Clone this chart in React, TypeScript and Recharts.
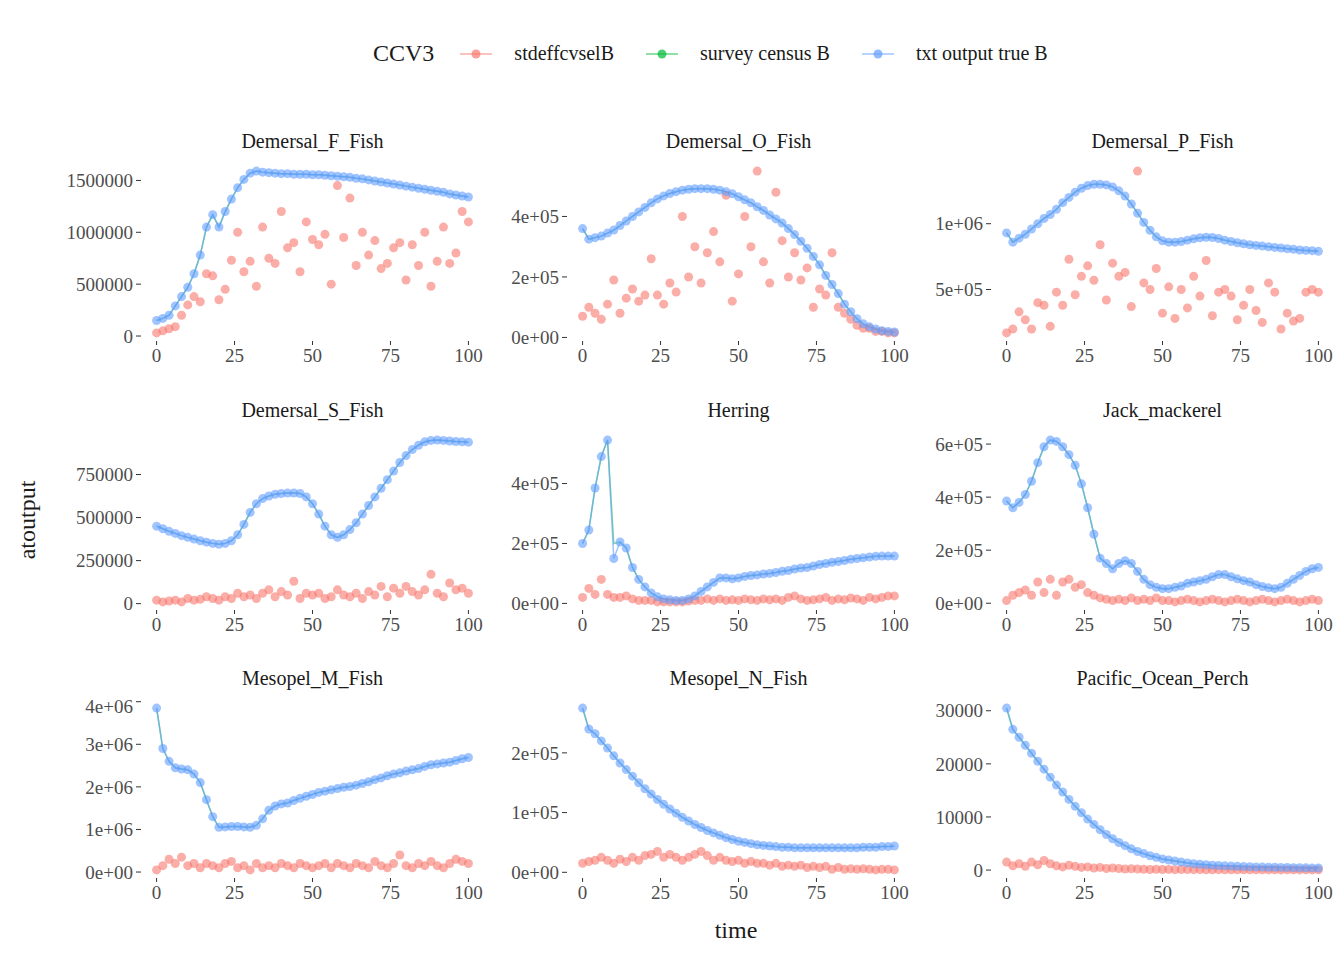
import React from 'react';
import { ComposedChart, Line, XAxis, YAxis } from 'recharts';

// time steps sampled every 2 units
const time = Array.from({ length: 51 }, (_, i) => i * 2);

const fFishTrue = [150,170,200,290,380,470,600,780,1050,1170,1050,1200,1320,1430,1510,1570,1590,1580,1575,1570,1565,1565,1560,1560,1560,1555,1555,1550,1545,1540,1535,1530,1520,1515,1505,1495,1485,1475,1465,1455,1445,1435,1425,1415,1405,1395,1385,1370,1360,1350,1340].map((v) => v * 1000);
const fFishCv = [30,50,70,90,200,300,380,330,600,580,350,450,730,1000,620,720,480,1050,750,700,1200,850,900,620,1100,930,880,980,500,1450,950,1330,680,1000,780,920,650,700,850,900,540,880,680,1000,480,720,1050,700,800,1200,1100].map((v) => v * 1000);

const oFishTrue = [360,325,330,335,345,355,370,385,400,415,430,445,458,468,476,482,487,490,492,492,492,490,487,482,475,465,455,445,432,420,405,392,378,360,340,318,295,268,240,205,175,145,110,85,62,45,35,28,22,20,18].map((v) => v * 1000);
const oFishCv = [70,100,80,60,110,190,80,130,160,120,140,260,140,110,180,150,400,200,300,180,280,350,250,470,120,210,400,300,550,250,180,480,320,200,280,190,230,100,160,140,280,100,80,60,40,30,30,20,20,15,15].map((v) => v * 1000);

const pFishTrue = [930,860,890,920,960,1000,1040,1070,1110,1160,1200,1240,1270,1290,1300,1300,1295,1280,1250,1210,1150,1080,1010,950,900,870,860,860,865,875,885,893,897,895,888,875,865,855,848,840,835,830,825,820,815,810,805,800,797,795,790].map((v) => v * 1000);
const pFishCv = [170,200,330,270,200,400,380,220,480,380,730,460,600,680,570,840,420,700,600,630,370,1400,550,500,660,320,520,280,500,360,600,450,720,300,480,500,450,270,380,500,340,250,550,480,200,320,260,280,480,500,480].map((v) => v * 1000);

const sFishTrue = [450,435,420,408,395,385,375,365,357,350,345,350,365,400,460,530,580,610,625,635,640,642,642,640,620,580,520,450,400,385,400,430,470,520,570,620,670,720,770,820,860,895,920,940,948,950,948,945,942,940,938].map((v) => v * 1000);
const sFishCv = [20,10,15,20,10,30,20,25,40,30,20,40,30,60,40,50,30,60,80,40,70,50,130,30,60,50,60,30,40,80,50,40,60,30,70,50,100,40,90,60,100,70,50,80,170,60,40,120,80,90,60].map((v) => v * 1000);

const herringTrue = [200,245,385,490,545,150,205,185,120,80,55,35,22,15,12,10,10,15,25,40,55,70,85,85,82,85,90,93,95,98,100,103,107,110,115,118,120,125,130,133,137,140,143,147,150,152,155,157,158,158,158].map((v) => v * 1000);
const herringCensus = [200,245,385,490,545,200,205,185,120,80,55,35,22,15,12,10,10,15,25,40,55,70,85,85,82,85,90,93,95,98,100,103,107,110,115,118,120,125,130,133,137,140,143,147,150,152,155,157,158,158,158].map((v) => v * 1000);
const herringCv = [20,50,30,80,30,20,20,25,15,10,10,10,5,5,5,5,5,8,10,10,15,10,15,10,12,10,15,12,10,15,12,15,10,20,25,15,10,12,15,20,10,15,12,18,15,10,20,15,20,25,25].map((v) => v * 1000);

const jackTrue = [385,360,380,410,460,530,590,615,610,590,560,520,450,360,260,170,150,130,150,160,150,120,90,70,60,55,55,60,65,75,80,85,90,100,108,108,100,92,85,80,70,63,58,55,60,75,90,105,120,130,135].map((v) => v * 1000);
const jackCv = [10,30,40,50,30,80,40,90,30,80,90,60,70,40,30,20,15,10,15,10,20,10,15,10,20,10,10,5,10,15,10,5,10,15,10,5,10,15,10,5,10,15,10,5,10,15,10,5,10,15,10].map((v) => v * 1000);

const mMesoTrue = [3850,2900,2600,2450,2420,2400,2300,2100,1700,1300,1050,1060,1070,1070,1060,1050,1100,1250,1450,1550,1600,1620,1680,1730,1780,1820,1870,1900,1930,1960,1990,2010,2040,2080,2120,2170,2210,2260,2300,2330,2370,2400,2430,2480,2520,2540,2560,2580,2620,2660,2690].map((v) => v * 1000);
const mMesoCv = [50,150,300,200,350,150,200,100,200,150,100,200,250,100,150,50,200,100,150,100,200,150,100,200,150,100,150,200,100,200,150,100,200,150,100,250,150,100,200,400,150,100,200,150,250,150,100,200,300,250,200].map((v) => v * 1000);

const nMesoTrue = [275,240,232,220,208,195,183,172,161,150,140,131,122,114,106,99,92,86,80,75,70,66,62,58,55,52,50,48,46,45,44,43,42,42,41,41,41,41,41,41,41,41,41,41,41,42,42,42,43,43,44].map((v) => v * 1000);
const nMesoCv = [15,18,20,25,20,15,22,18,25,20,28,30,35,25,30,25,20,25,30,35,28,20,25,20,18,20,15,18,15,15,12,15,10,12,10,12,8,10,8,10,5,8,5,6,5,6,5,4,5,5,4].map((v) => v * 1000);

const popTrue = [30500,26500,25000,23500,22000,20500,19000,17500,16000,14700,13300,12000,10800,9600,8600,7600,6700,5900,5200,4600,4000,3500,3100,2700,2400,2100,1900,1700,1500,1350,1200,1100,1000,900,850,800,750,700,650,620,590,560,540,520,500,480,460,440,420,410,400];
const popCv = [1500,800,1200,700,1500,1000,1800,1200,800,600,900,700,500,600,400,500,300,400,300,200,250,200,150,100,150,100,120,80,100,90,80,100,70,60,80,50,60,70,50,40,60,50,40,50,30,40,50,30,40,30,50];

const RED = '#F8766D';
const GREEN = '#00BA38';
const BLUE = '#619CFF';
const FONT = '"Liberation Serif", "DejaVu Serif", serif';

const panels = [
  { title: 'Demersal_F_Fish', tru: fFishTrue, census: fFishTrue, cv: fFishCv, ticks: [0, 500000, 1000000, 1500000], labels: ['0', '500000', '1000000', '1500000'] },
  { title: 'Demersal_O_Fish', tru: oFishTrue, census: oFishTrue, cv: oFishCv, ticks: [0, 200000, 400000], labels: ['0e+00', '2e+05', '4e+05'] },
  { title: 'Demersal_P_Fish', tru: pFishTrue, census: pFishTrue, cv: pFishCv, ticks: [500000, 1000000], labels: ['5e+05', '1e+06'] },
  { title: 'Demersal_S_Fish', tru: sFishTrue, census: sFishTrue, cv: sFishCv, ticks: [0, 250000, 500000, 750000], labels: ['0', '250000', '500000', '750000'] },
  { title: 'Herring', tru: herringTrue, census: herringCensus, cv: herringCv, ticks: [0, 200000, 400000], labels: ['0e+00', '2e+05', '4e+05'] },
  { title: 'Jack_mackerel', tru: jackTrue, census: jackTrue, cv: jackCv, ticks: [0, 200000, 400000, 600000], labels: ['0e+00', '2e+05', '4e+05', '6e+05'] },
  { title: 'Mesopel_M_Fish', tru: mMesoTrue, census: mMesoTrue, cv: mMesoCv, ticks: [0, 1000000, 2000000, 3000000, 4000000], labels: ['0e+00', '1e+06', '2e+06', '3e+06', '4e+06'] },
  { title: 'Mesopel_N_Fish', tru: nMesoTrue, census: nMesoTrue, cv: nMesoCv, ticks: [0, 100000, 200000], labels: ['0e+00', '1e+05', '2e+05'] },
  { title: 'Pacific_Ocean_Perch', tru: popTrue, census: popTrue, cv: popCv, ticks: [0, 10000, 20000, 30000], labels: ['0', '10000', '20000', '30000'] },
];

const plotLefts = [141, 567, 991];
const plotTops = [163, 432, 700];
const PLOT_W = 343;
const PLOT_H = 178;
const Y_W = 110;

function Panel({ p, col, row }: { p: (typeof panels)[number]; col: number; row: number }) {
  const data = time.map((t, i) => ({ t, tru: p.tru[i], census: p.census[i], cv: p.cv[i] }));
  const all = [...p.tru, ...p.cv];
  const lo = Math.min(...all);
  const hi = Math.max(...all);
  const pad = (hi - lo) * 0.05;
  const left = plotLefts[col] - Y_W;
  const top = plotTops[row] - 5;
  const tickStyle = { fontFamily: FONT, fontSize: 19, fill: '#4d4d4d' };
  return (
    <div style={{ position: 'absolute', left, top }}>
      <div style={{ position: 'absolute', left: Y_W, width: PLOT_W, top: -28, textAlign: 'center', fontFamily: FONT, fontSize: 20, color: '#1a1a1a' }}>
        {p.title}
      </div>
      <ComposedChart width={Y_W + PLOT_W + 5} height={PLOT_H + 40} data={data} margin={{ top: 5, right: 5, bottom: 0, left: 0 }}>
        <XAxis dataKey="t" type="number" domain={[-5, 105]} ticks={[0, 25, 50, 75, 100]} axisLine={false} tickSize={4} tickMargin={4} tickLine={{ stroke: '#333' }} tick={tickStyle} height={35} />
        <YAxis type="number" domain={[lo - pad, hi + pad]} ticks={p.ticks} tickFormatter={(v: number) => p.labels[p.ticks.indexOf(v)] ?? ''} axisLine={false} tickSize={5} tickMargin={3} tickLine={{ stroke: '#333' }} tick={tickStyle} width={Y_W} allowDataOverflow />
        <Line dataKey="census" stroke={GREEN} strokeOpacity={0.5} strokeWidth={1.5} dot={false} isAnimationActive={false} />
        <Line dataKey="cv" stroke="none" dot={{ r: 4.5, fill: RED, fillOpacity: 0.6, stroke: 'none' }} isAnimationActive={false} />
        <Line dataKey="tru" stroke={BLUE} strokeOpacity={0.6} strokeWidth={1.5} dot={{ r: 4.5, fill: BLUE, fillOpacity: 0.6, stroke: 'none' }} isAnimationActive={false} />
      </ComposedChart>
    </div>
  );
}

function Key({ color, label }: { color: string; label: string }) {
  return (
    <span style={{ display: 'inline-flex', alignItems: 'center', marginRight: 30 }}>
      <svg width={36} height={20}>
        <line x1={2} y1={10} x2={34} y2={10} stroke={color} strokeOpacity={0.6} strokeWidth={1.5} />
        <circle cx={18} cy={10} r={4.5} fill={color} fillOpacity={0.7} />
      </svg>
      <span style={{ marginLeft: 20 }}>{label}</span>
    </span>
  );
}

export default function App() {
  return (
    <div style={{ position: 'absolute', left: 0, top: 0, width: 1344, height: 960, background: '#fff', fontFamily: FONT, color: '#1a1a1a' }}>
      <div style={{ position: 'absolute', left: 373, top: 40, fontSize: 20, display: 'flex', alignItems: 'center', whiteSpace: 'nowrap' }}>
        <span style={{ fontSize: 24, marginRight: 24 }}>CCV3</span>
        <Key color={RED} label="stdeffcvselB" />
        <Key color={GREEN} label="survey census B" />
        <Key color={BLUE} label="txt output true B" />
      </div>
      {panels.map((p, i) => (
        <Panel key={p.title} p={p} col={i % 3} row={Math.floor(i / 3)} />
      ))}
      <div style={{ position: 'absolute', left: 27, top: 520, fontSize: 24, transform: 'translate(-50%, -50%) rotate(-90deg)' }}>atoutput</div>
      <div style={{ position: 'absolute', left: 736, top: 930, fontSize: 24, transform: 'translate(-50%, -50%)' }}>time</div>
    </div>
  );
}
